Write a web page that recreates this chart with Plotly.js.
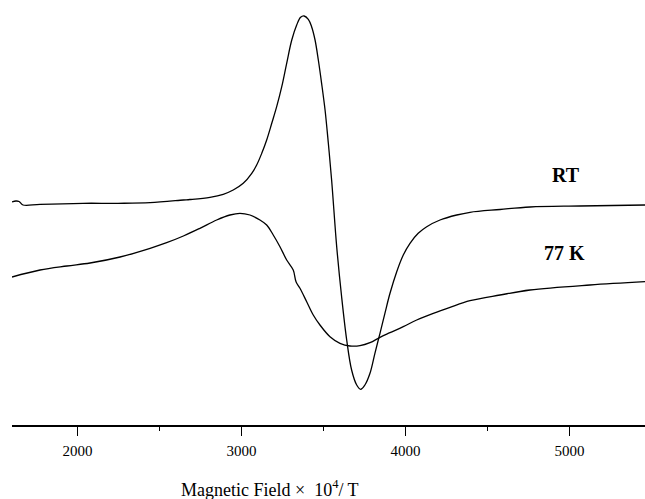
<!DOCTYPE html>
<html>
<head>
<meta charset="utf-8">
<script src="https://cdn.plot.ly/plotly-3.0.1.min.js"></script>
<style>
  html, body { margin: 0; padding: 0; background: #fff; }
  #chart { width: 645px; height: 499px; }
</style>
</head>
<body>
<div id="chart"></div>
<script>
// EPR spectra: first-derivative signal vs. magnetic field (x 10^4 T), arbitrary intensity
const fieldRT = [1600, 1624, 1643, 1667, 1771, 2033, 2246, 2442, 2645, 2685, 2807, 2888, 2949,
  3010, 3062, 3092, 3123, 3153, 3184, 3214, 3245, 3275, 3306, 3336, 3360, 3381, 3407, 3427,
  3448, 3468, 3488, 3509, 3529, 3549, 3580, 3610, 3641, 3671, 3702, 3726, 3752, 3783, 3813,
  3844, 3874, 3905, 3946, 3986, 4027, 4077, 4129, 4210, 4312, 4393, 4576, 4759, 5063, 5460];
const signalRT = [223, 224, 223.5, 220, 220.7, 221.7, 221.7, 222.3, 225, 225.5, 227.7, 230.7, 235,
  241.7, 251.7, 260, 271.7, 285, 301.7, 318.3, 338.3, 361.7, 385, 400, 407.7, 409, 405.7, 398.3,
  385, 365, 341.7, 315, 281.7, 245, 178.3, 128.3, 85, 55, 40, 35.7, 40, 51.7, 71.7,
  91.7, 111.7, 131.7, 153.3, 170, 181.7, 191.7, 198.3, 205, 210, 212.7, 215.5, 218, 219, 220];

const field77K = [1600, 1771, 1935, 2076, 2259, 2442, 2543, 2645, 2746, 2848, 2929, 2990, 3051,
  3112, 3153, 3193, 3234, 3275, 3315, 3332, 3356, 3397, 3437, 3478, 3539, 3600, 3661, 3722,
  3783, 3844, 3905, 3986, 4068, 4169, 4271, 4393, 4576, 4759, 5124, 5460];
const signal77K = [148, 155, 159, 162, 168, 176.7, 182.3, 189, 196.7, 205, 210, 211.7, 210,
  205, 200, 190, 178.3, 165, 155, 143.3, 136.7, 123.3, 110, 100, 88.3, 81.7, 79, 79.3,
  82.3, 87.7, 92.3, 98.3, 105, 111.7, 117.7, 124.3, 130, 135, 140, 143.3];

const curveLabels = ["RT", "77 K"];
const labelX = [4978, 4972];
const labelY = [250, 172];

const axisTitle = "Magnetic Field \u00d7  10<sup>4</sup>/ T";

const serif = "Liberation Serif, Times New Roman, serif";

const lineStyle = { color: "#000", width: 1.3, shape: "spline", smoothing: 1 };

const traces = [
  { x: fieldRT, y: signalRT, type: "scatter", mode: "lines", line: lineStyle, name: curveLabels[0], hoverinfo: "skip" },
  { x: field77K, y: signal77K, type: "scatter", mode: "lines", line: lineStyle, name: curveLabels[1], hoverinfo: "skip" }
];

const curveNotes = curveLabels.map((t, i) => ({
  x: labelX[i], y: labelY[i], xref: "x", yref: "y",
  text: "<b>" + t + "</b>", showarrow: false,
  font: { family: serif, size: 20, color: "#000" }
}));

// axis caption, set slightly left of the plot centre
const captionNote = {
  x: 0.4076, y: -0.152, xref: "paper", yref: "paper",
  xanchor: "center", yanchor: "middle",
  text: axisTitle, showarrow: false,
  font: { family: serif, size: 18, color: "#000" }
};

const layout = {
  width: 645,
  height: 499,
  margin: { l: 12, r: 0, t: 10, b: 74 },
  paper_bgcolor: "#fff",
  plot_bgcolor: "#fff",
  showlegend: false,
  font: { family: serif, color: "#000" },
  xaxis: {
    range: [1600, 5460],
    showgrid: false,
    zeroline: false,
    showline: true,
    linecolor: "#000",
    linewidth: 1.6,
    ticks: "outside",
    ticklen: 9,
    tickwidth: 1.6,
    tickcolor: "#000",
    tick0: 1000,
    dtick: 1000,
    ticklabelstandoff: 2,
    minor: { ticks: "outside", ticklen: 4, tickwidth: 1.6, tickcolor: "#000", dtick: 500, tick0: 1500, showgrid: false },
    tickfont: { family: serif, size: 15, color: "#000" }
  },
  yaxis: {
    range: [0, 415],
    visible: false,
    showgrid: false,
    zeroline: false
  },
  annotations: curveNotes.concat([captionNote])
};

Plotly.newPlot("chart", traces, layout, { displayModeBar: false, staticPlot: true });
</script>
</body>
</html>
